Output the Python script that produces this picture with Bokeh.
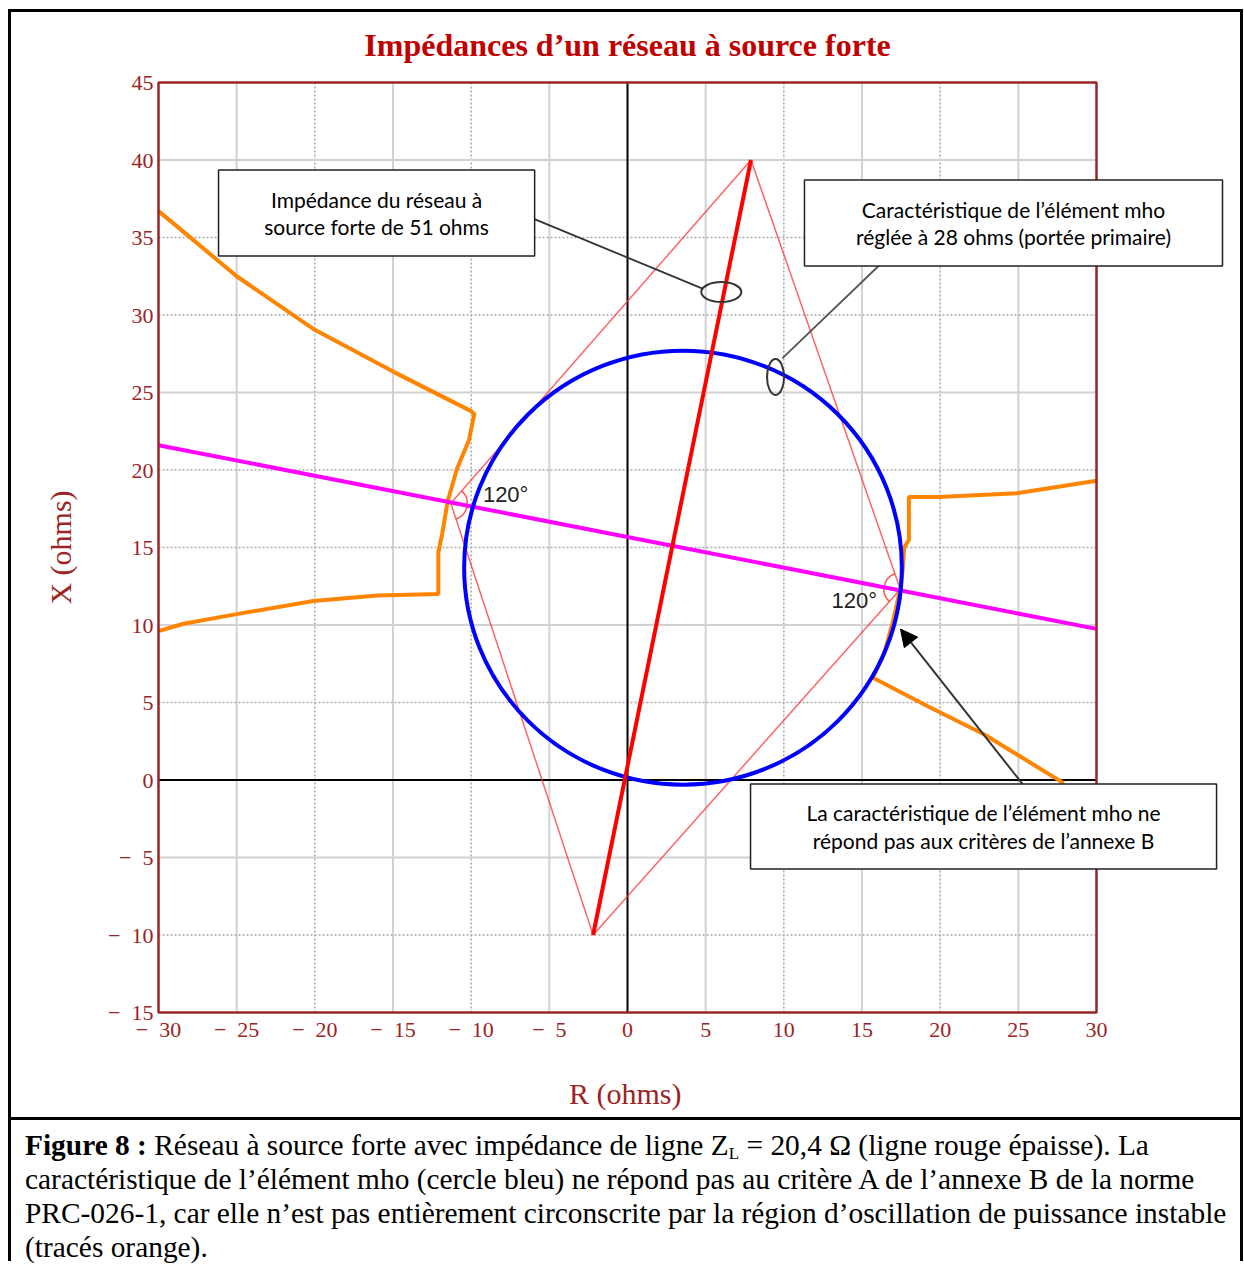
import numpy as np
from bokeh.plotting import figure
from bokeh.models import (Range1d, FixedTicker, Label, BoxAnnotation, Arrow, NormalHead, Div)
from bokeh.layouts import column
from bokeh.embed import file_html
from bokeh.resources import INLINE

# ---------------- data ----------------
x_ticks = [-30, -25, -20, -15, -10, -5, 0, 5, 10, 15, 20, 25, 30]
x_tick_labels = ["\u2212\u200230", "\u2212\u200225", "\u2212\u200220", "\u2212\u200215",
                 "\u2212\u200210", "\u2212\u20025", "0", "5", "10", "15", "20", "25", "30"]
y_ticks = [-15, -10, -5, 0, 5, 10, 15, 20, 25, 30, 35, 40, 45]
y_tick_labels = ["\u2212\u200215", "\u2212\u200210", "\u2212\u20025", "0", "5", "10", "15", "20",
                 "25", "30", "35", "40", "45"]

grid_x_solid = [-25, -15, -5, 5, 15, 25]
grid_x_dashed = [-20, -10, 10, 20]
grid_y_solid = [40, 25, 10, -5]
grid_y_dashed = [35, 30, 20, 15, 5, -10]

# mho element (blue circle): centre and diameter (ohms)
mho_center_r = 3.55
mho_center_x = 13.7
mho_diameter = 28.0

# line impedance (thick red)
line_r = [-2.2, 7.9]
line_x = [-10.0, 40.0]

# source impedance quadrilateral (thin red)
quad_r = [-2.2, -11.3, 7.9, 17.45, -2.2]
quad_x = [-10.0, 17.85, 40.0, 12.3, -10.0]

# magenta line
magenta_r = [-30.0, 30.0]
magenta_x = [21.6, 9.75]

# orange unstable power-swing traces
orange_left_r = [-30.0, -28.8, -25.0, -20.1, -14.9, -10.0, -9.8, -10.15, -10.9, -11.5,
                 -11.85, -12.1, -12.1, -16.0, -20.1, -25.0, -28.4, -30.0]
orange_left_x = [36.7, 35.7, 32.5, 29.1, 26.3, 23.8, 23.6, 21.9, 20.1, 18.0,
                 15.9, 14.7, 12.0, 11.9, 11.55, 10.7, 10.08, 9.6]
orange_right_r = [30.0, 24.9, 19.9, 18.0, 18.0, 17.7, 17.6, 17.4, 17.0, 16.4, 15.7,
                  19.17, 22.8, 27.9]
orange_right_x = [19.3, 18.5, 18.26, 18.26, 15.5, 15.0, 13.5, 12.1, 10.3, 8.1, 6.6,
                  4.77, 2.95, -0.2]

angle_text = ["120\u00b0", "120\u00b0"]
angle_text_r = [-9.25, 13.05]
angle_text_x = [18.45, 11.55]

title_text = "Imp\u00e9dances d\u2019un r\u00e9seau \u00e0 source forte"
x_axis_title = "R (ohms)"
y_axis_title = "X (ohms)"
box1_lines = ["Imp\u00e9dance du r\u00e9seau \u00e0", "source forte de 51 ohms"]
box2_lines = ["Caract\u00e9ristique de l\u2019\u00e9l\u00e9ment mho",
              "r\u00e9gl\u00e9e \u00e0 28 ohms (port\u00e9e primaire)"]
box3_lines = ["La caract\u00e9ristique de l\u2019\u00e9l\u00e9ment mho ne",
              "r\u00e9pond pas aux crit\u00e8res de l\u2019annexe B"]

# ---------------- geometry (pixels) ----------------
DARKRED = "#9b2424"
FIG_W, FIG_H = 1229, 1105
LEFT_PX, BOTTOM_PX = 147, 105     # distance of the plot box from the canvas left / bottom
PX_R = 938 / 60.0                 # pixels per ohm, R axis
PX_X = 930 / 60.0                 # pixels per ohm, X axis
x0 = x_ticks[0] - LEFT_PX / PX_R
x1 = x0 + FIG_W / PX_R
y0 = y_ticks[0] - BOTTOM_PX / PX_X
y1 = y0 + FIG_H / PX_X

p = figure(width=FIG_W, height=FIG_H, x_range=Range1d(x0, x1), y_range=Range1d(y0, y1),
           output_backend="svg", toolbar_location=None,
           min_border_left=0, min_border_right=0, min_border_top=0, min_border_bottom=0)
p.xgrid.visible = False
p.ygrid.visible = False
p.outline_line_color = None

for ax, ticks, labels, loc in [(p.xaxis, x_ticks, x_tick_labels, y_ticks[0]),
                               (p.yaxis, y_ticks, y_tick_labels, x_ticks[0])]:
    ax.fixed_location = loc
    ax.ticker = FixedTicker(ticks=ticks)
    ax.bounds = (ticks[0], ticks[-1])
    ax.major_label_overrides = dict(zip(ticks, labels))
    ax.major_label_text_font = "Liberation Serif"
    ax.major_label_text_font_size = "22px"
    ax.major_label_text_color = DARKRED
    ax.major_tick_line_color = None
    ax.minor_tick_line_color = None
    ax.major_tick_out = 0
    ax.major_tick_in = 0
    ax.minor_tick_out = 0
    ax.axis_line_color = None
p.xaxis.major_label_standoff = 4
p.yaxis.major_label_standoff = 5

# grid (inside the plot box only)
ylo, yhi = y_ticks[0], y_ticks[-1]
xlo, xhi = x_ticks[0], x_ticks[-1]
p.segment(x0=grid_x_solid, y0=[ylo] * len(grid_x_solid), x1=grid_x_solid, y1=[yhi] * len(grid_x_solid),
          line_color="#d2d2d2", line_width=2)
p.segment(x0=grid_x_dashed, y0=[ylo] * len(grid_x_dashed), x1=grid_x_dashed, y1=[yhi] * len(grid_x_dashed),
          line_color="#a8a8a8", line_width=1.5, line_dash="2 2")
p.segment(x0=[xlo] * len(grid_y_solid), y0=grid_y_solid, x1=[xhi] * len(grid_y_solid), y1=grid_y_solid,
          line_color="#d2d2d2", line_width=2)
p.segment(x0=[xlo] * len(grid_y_dashed), y0=grid_y_dashed, x1=[xhi] * len(grid_y_dashed), y1=grid_y_dashed,
          line_color="#a8a8a8", line_width=1.5, line_dash="2 2")
# R and X axes (black)
p.segment(x0=[xlo, 0], y0=[0, ylo], x1=[xhi, 0], y1=[0, yhi], line_color="black", line_width=2)

# thin red quadrilateral
p.line(quad_r, quad_x, line_color="#ff3030", line_width=1.5, line_alpha=0.75)
ang_b1 = np.arctan2(quad_x[0] - quad_x[1], quad_r[0] - quad_r[1])
ang_b2 = np.arctan2(quad_x[2] - quad_x[1], quad_r[2] - quad_r[1])
ang_d1 = np.arctan2(quad_x[2] - quad_x[3], quad_r[2] - quad_r[3])
ang_d2 = np.arctan2(quad_x[0] - quad_x[3], quad_r[0] - quad_r[3]) % (2 * np.pi)
p.arc(x=[quad_r[1]], y=[quad_x[1]], radius=1.05, start_angle=ang_b1, end_angle=ang_b2,
      line_color="#ff3030", line_width=1.5, line_alpha=0.8)
p.arc(x=[quad_r[3]], y=[quad_x[3]], radius=1.05, start_angle=ang_d1, end_angle=ang_d2,
      line_color="#ff3030", line_width=1.5, line_alpha=0.8)

p.line(orange_left_r, orange_left_x, line_color="#ff8400", line_width=4)
p.line(orange_right_r, orange_right_x, line_color="#ff8400", line_width=4)
p.line(magenta_r, magenta_x, line_color="#ff00ff", line_width=4)
p.ellipse(x=[mho_center_r], y=[mho_center_x], width=mho_diameter, height=mho_diameter,
          fill_color=None, line_color="#0000ff", line_width=4)
p.line(line_r, line_x, line_color="#ff0000", line_width=4)

# plot border (dark red)
p.quad(left=[xlo], right=[xhi], bottom=[ylo], top=[yhi], fill_color=None,
       line_color=DARKRED, line_width=2.5)

# callouts
p.line([-5.95, 4.8], [36.19, 31.7], line_color="#333333", line_width=1.8)
p.ellipse(x=[6.0], y=[31.48], width=2.56, height=1.29, fill_color=None, line_color="#333333", line_width=2)
p.line([16.06, 9.9], [33.16, 27.2], line_color="#555555", line_width=1.8)
p.ellipse(x=[9.47], y=[26.0], width=1.09, height=2.32, fill_color=None, line_color="#333333", line_width=2)
p.add_layout(Arrow(end=NormalHead(size=17, fill_color="black", line_color="black"),
                   x_start=25.27, y_start=-0.26, x_end=17.46, y_end=9.74,
                   line_color="#333333", line_width=2))

for t, r, xv in zip(angle_text, angle_text_r, angle_text_x):
    p.add_layout(Label(x=r, y=xv, text=t, text_font="Liberation Sans", text_font_size="22px",
                       text_color="#222222", text_baseline="middle", text_align="left"))

boxes = [(-26.16, -5.94, 39.35, 33.81, box1_lines),
         (11.32, 38.06, 38.71, 33.16, box2_lines),
         (7.87, 37.68, -0.26, -5.74, box3_lines)]
for l, r, t, b, lines in boxes:
    p.add_layout(BoxAnnotation(left=l, right=r, top=t, bottom=b, fill_color="white", fill_alpha=1.0,
                               line_color="#222222", line_width=1.5, line_alpha=1.0))
    cx = (l + r) / 2
    cy = (t + b) / 2
    for i, s in enumerate(lines):
        p.add_layout(Label(x=cx, y=cy + (0.9 if i == 0 else -0.9), text=s, text_font="Lato",
                           text_font_size="21px", text_color="black", text_align="center",
                           text_baseline="middle"))

# title and axis titles
p.add_layout(Label(x=0, y=yhi + 38 / PX_X, text=title_text, text_font="Liberation Serif",
                   text_font_style="bold", text_font_size="32px", text_color="#c00000",
                   text_align="center", text_baseline="middle"))
p.add_layout(Label(x=-0.15, y=ylo - 81 / PX_X, text=x_axis_title, text_font="Liberation Serif",
                   text_font_size="30px", text_color=DARKRED, text_align="center", text_baseline="middle"))
p.add_layout(Label(x=xlo - 98 / PX_R, y=(ylo + yhi) / 2, text=y_axis_title, text_font="Liberation Serif",
                   text_font_size="30px", text_color=DARKRED, text_align="center", text_baseline="middle",
                   angle=np.pi / 2))

caption_html = (
    '<div style="box-sizing:border-box;width:1229px;height:144px;border-top:3px solid #000;'
    'padding:8px 0 0 14px;font-family:\'Liberation Serif\';'
    'font-size:29.4px;line-height:34px;color:#000;white-space:nowrap;">'
    '<b>Figure 8 :</b> R\u00e9seau \u00e0 source forte avec imp\u00e9dance de ligne Z'
    '<span style="font-size:17px;line-height:0;vertical-align:-4px;">L</span>'
    ' = 20,4 \u03a9 (ligne rouge \u00e9paisse). La<br>'
    'caract\u00e9ristique de l\u2019\u00e9l\u00e9ment mho (cercle bleu) ne r\u00e9pond pas au crit\u00e8re A de '
    'l\u2019annexe B de la norme<br>'
    'PRC-026-1, car elle n\u2019est pas enti\u00e8rement circonscrite par la r\u00e9gion d\u2019oscillation de '
    'puissance instable<br>'
    '(trac\u00e9s orange).</div>'
)
caption = Div(text=caption_html, width=1229, height=144, margin=(0, 0, 0, 0))

layout = column(p, caption, spacing=0,
                styles={"border-left": "3px solid black", "border-right": "3px solid black",
                        "border-top": "3px solid black", "margin-left": "8px", "margin-top": "9px"})
open("out.html", "w").write(file_html(layout, INLINE))
